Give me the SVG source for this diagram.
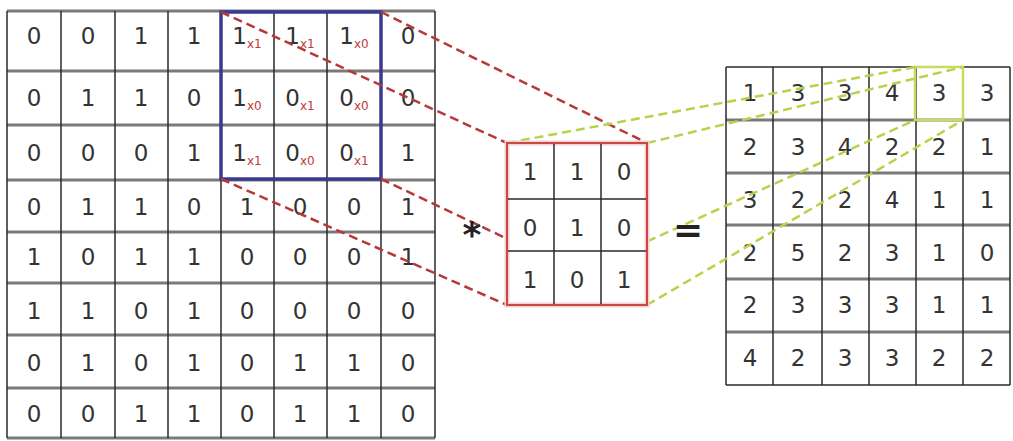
<svg xmlns="http://www.w3.org/2000/svg" width="1013" height="441" viewBox="0 0 1013 441">
<style>
.num{font-family:"DejaVu Sans","Liberation Sans",sans-serif;font-size:23px;fill:#333;text-anchor:middle}
.sub{font-size:12px;fill:#c03a3a}
.vl{stroke:#2a2a2a;stroke-width:1.5}
.hl{stroke:#7a7a7a;stroke-width:3}
.red{stroke:#b8383a;stroke-width:2.5;stroke-dasharray:9 5;fill:none}
.grn{stroke:#b9d24a;stroke-width:2.5;stroke-dasharray:9 5;fill:none}
.op{font-family:"DejaVu Sans","Liberation Sans",sans-serif;font-weight:bold;fill:#222;text-anchor:middle}
</style>
<rect width="1013" height="441" fill="#fff"/>

<g id="input-grid">
<rect x="7" y="11" width="428" height="427" fill="#fff"/>
<g>
<line class="hl" x1="7" y1="11" x2="435" y2="11"/>
<line class="hl" x1="7" y1="71" x2="435" y2="71"/>
<line class="hl" x1="7" y1="125" x2="435" y2="125"/>
<line class="hl" x1="7" y1="180" x2="435" y2="180"/>
<line class="hl" x1="7" y1="232" x2="435" y2="232"/>
<line class="hl" x1="7" y1="283" x2="435" y2="283"/>
<line class="hl" x1="7" y1="335" x2="435" y2="335"/>
<line class="hl" x1="7" y1="388" x2="435" y2="388"/>
<line class="hl" x1="7" y1="438" x2="435" y2="438"/>
<line class="vl" x1="7" y1="11" x2="7" y2="438"/>
<line class="vl" x1="61" y1="11" x2="61" y2="438"/>
<line class="vl" x1="115" y1="11" x2="115" y2="438"/>
<line class="vl" x1="168" y1="11" x2="168" y2="438"/>
<line class="vl" x1="221" y1="11" x2="221" y2="438"/>
<line class="vl" x1="274" y1="11" x2="274" y2="438"/>
<line class="vl" x1="327" y1="11" x2="327" y2="438"/>
<line class="vl" x1="381" y1="11" x2="381" y2="438"/>
<line class="vl" x1="435" y1="11" x2="435" y2="438"/>
</g>
<g class="num">
<text x="34" y="44">0</text><text x="88" y="44">0</text><text x="141" y="44">1</text><text x="194" y="44">1</text>
<text x="247" y="44">1<tspan class="sub" dy="4">x1</tspan></text>
<text x="300" y="44">1<tspan class="sub" dy="4">x1</tspan></text>
<text x="354" y="44">1<tspan class="sub" dy="4">x0</tspan></text>
<text x="408" y="44">0</text>

<text x="34" y="106">0</text><text x="88" y="106">1</text><text x="141" y="106">1</text><text x="194" y="106">0</text>
<text x="247" y="106">1<tspan class="sub" dy="4">x0</tspan></text>
<text x="300" y="106">0<tspan class="sub" dy="4">x1</tspan></text>
<text x="354" y="106">0<tspan class="sub" dy="4">x0</tspan></text>
<text x="408" y="106">0</text>

<text x="34" y="161">0</text><text x="88" y="161">0</text><text x="141" y="161">0</text><text x="194" y="161">1</text>
<text x="247" y="161">1<tspan class="sub" dy="4">x1</tspan></text>
<text x="300" y="161">0<tspan class="sub" dy="4">x0</tspan></text>
<text x="354" y="161">0<tspan class="sub" dy="4">x1</tspan></text>
<text x="408" y="161">1</text>

<text x="34" y="215">0</text><text x="88" y="215">1</text><text x="141" y="215">1</text><text x="194" y="215">0</text><text x="247" y="215">1</text><text x="300" y="215">0</text><text x="354" y="215">0</text><text x="408" y="215">1</text>
<text x="34" y="265">1</text><text x="88" y="265">0</text><text x="141" y="265">1</text><text x="194" y="265">1</text><text x="247" y="265">0</text><text x="300" y="265">0</text><text x="354" y="265">0</text><text x="408" y="265">1</text>
<text x="34" y="319">1</text><text x="88" y="319">1</text><text x="141" y="319">0</text><text x="194" y="319">1</text><text x="247" y="319">0</text><text x="300" y="319">0</text><text x="354" y="319">0</text><text x="408" y="319">0</text>
<text x="34" y="371">0</text><text x="88" y="371">1</text><text x="141" y="371">0</text><text x="194" y="371">1</text><text x="247" y="371">0</text><text x="300" y="371">1</text><text x="354" y="371">1</text><text x="408" y="371">0</text>
<text x="34" y="422">0</text><text x="88" y="422">0</text><text x="141" y="422">1</text><text x="194" y="422">1</text><text x="247" y="422">0</text><text x="300" y="422">1</text><text x="354" y="422">1</text><text x="408" y="422">0</text>
</g>
</g>

<g id="receptive-field">
<rect x="221" y="12" width="160" height="167" fill="none" stroke="#3a3a8e" stroke-width="3.5"/>
</g>

<g id="output-grid">
<rect x="726" y="67" width="284" height="318" fill="#fff"/>
<g>
<line class="vl" x1="726" y1="67" x2="1010" y2="67"/>
<line class="hl" x1="726" y1="120" x2="1010" y2="120"/>
<line class="hl" x1="726" y1="173" x2="1010" y2="173"/>
<line class="hl" x1="726" y1="225" x2="1010" y2="225"/>
<line class="hl" x1="726" y1="279" x2="1010" y2="279"/>
<line class="hl" x1="726" y1="332" x2="1010" y2="332"/>
<line class="vl" x1="726" y1="385" x2="1010" y2="385"/>
<line class="vl" x1="726" y1="67" x2="726" y2="385"/>
<line class="vl" x1="773" y1="67" x2="773" y2="385"/>
<line class="vl" x1="822" y1="67" x2="822" y2="385"/>
<line class="vl" x1="869" y1="67" x2="869" y2="385"/>
<line class="vl" x1="916" y1="67" x2="916" y2="385"/>
<line class="vl" x1="963" y1="67" x2="963" y2="385"/>
<line class="vl" x1="1010" y1="67" x2="1010" y2="385"/>
</g>
<g class="num">
<text x="750" y="101">1</text><text x="798" y="101">3</text><text x="845" y="101">3</text><text x="892" y="101">4</text><text x="939" y="101">3</text><text x="987" y="101">3</text>
<text x="750" y="155">2</text><text x="798" y="155">3</text><text x="845" y="155">4</text><text x="892" y="155">2</text><text x="939" y="155">2</text><text x="987" y="155">1</text>
<text x="750" y="208">3</text><text x="798" y="208">2</text><text x="845" y="208">2</text><text x="892" y="208">4</text><text x="939" y="208">1</text><text x="987" y="208">1</text>
<text x="750" y="261">2</text><text x="798" y="261">5</text><text x="845" y="261">2</text><text x="892" y="261">3</text><text x="939" y="261">1</text><text x="987" y="261">0</text>
<text x="750" y="313">2</text><text x="798" y="313">3</text><text x="845" y="313">3</text><text x="892" y="313">3</text><text x="939" y="313">1</text><text x="987" y="313">1</text>
<text x="750" y="366">4</text><text x="798" y="366">2</text><text x="845" y="366">3</text><text x="892" y="366">3</text><text x="939" y="366">2</text><text x="987" y="366">2</text>
</g>
<rect x="915" y="67" width="48" height="53" fill="none" stroke="#c6dc5c" stroke-width="2.5"/>
</g>

<g id="connectors">
<line class="red" x1="221" y1="12" x2="507" y2="143"/>
<line class="red" x1="381" y1="12" x2="647" y2="143"/>
<line class="red" x1="221" y1="179" x2="507" y2="305"/>
<line class="red" x1="381" y1="179" x2="647" y2="305"/>
<line class="grn" x1="507" y1="143" x2="915" y2="67"/>
<line class="grn" x1="647" y1="143" x2="963" y2="67"/>
<line class="grn" x1="507" y1="305" x2="915" y2="120"/>
<line class="grn" x1="647" y1="305" x2="963" y2="120"/>
</g>

<g id="kernel">
<rect x="507" y="143" width="140" height="162" fill="#fff" stroke="#f4d0d0" stroke-width="5"/>
<line class="vl" x1="554" y1="143" x2="554" y2="305"/>
<line class="vl" x1="601" y1="143" x2="601" y2="305"/>
<line class="vl" x1="507" y1="199" x2="647" y2="199"/>
<line class="vl" x1="507" y1="251" x2="647" y2="251"/>
<rect x="507" y="143" width="140" height="162" fill="none" stroke="#c84848" stroke-width="2"/>
<g class="num">
<text x="530" y="180">1</text><text x="577" y="180">1</text><text x="624" y="180">0</text>
<text x="530" y="236">0</text><text x="577" y="236">1</text><text x="624" y="236">0</text>
<text x="530" y="288">1</text><text x="577" y="288">0</text><text x="624" y="288">1</text>
</g>
</g>

<g id="operator-star">
<text class="op" x="472" y="247" font-size="36">*</text>
</g>
<g id="operator-equals">
<text class="op" x="688" y="242" font-size="36">=</text>
</g>
</svg>
